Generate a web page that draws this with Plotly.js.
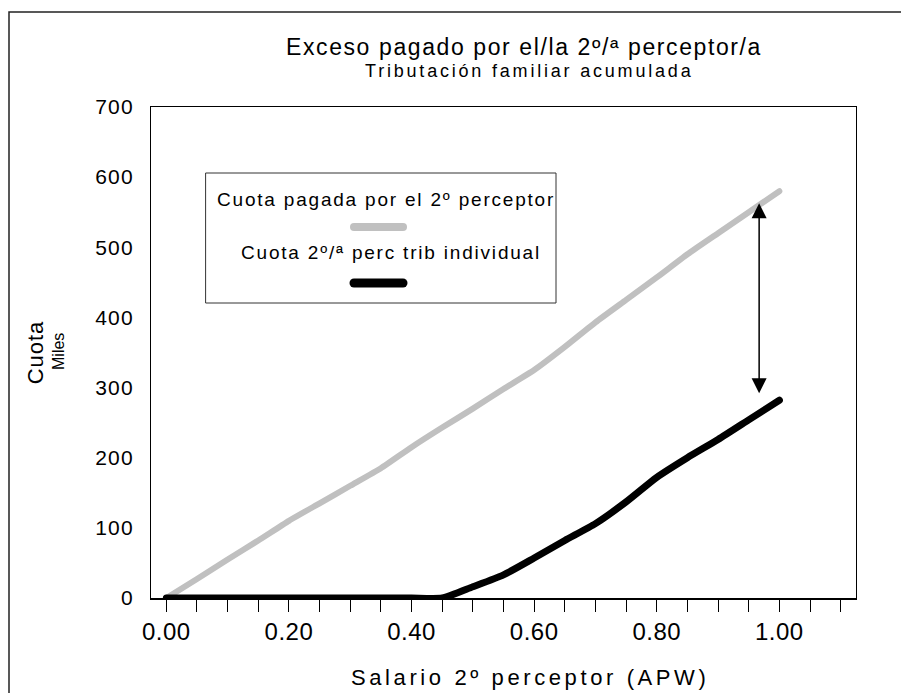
<!DOCTYPE html>
<html>
<head>
<meta charset="utf-8">
<script src="https://cdn.plot.ly/plotly-3.0.1.min.js"></script>
<style>
  html, body { margin: 0; padding: 0; background: #fff; }
  #chart { width: 901px; height: 693px; }
  .gtitle { letter-spacing: 1.6px; }
  .xtick text { letter-spacing: 0.5px; }
  .ytick text { letter-spacing: 1.2px; }
  .g-ytitle text { letter-spacing: 1px; }
  .scatterlayer path.js-line { stroke-linecap: round; stroke-linejoin: round; }
  .shapelayer path { stroke-linecap: round; }
</style>
</head>
<body>
<div id="chart"></div>
<script>
// ---- data ----
const salario = [0.00, 0.05, 0.10, 0.15, 0.20, 0.25, 0.30, 0.35, 0.40, 0.45, 0.50,
                 0.55, 0.60, 0.65, 0.70, 0.75, 0.80, 0.85, 0.90, 0.95, 1.00];
const cuotaPagada = [0, 27, 55, 82, 110, 135, 160, 185, 215, 243, 270,
                     298, 325, 358, 393, 425, 457, 490, 520, 550, 580];
const cuotaIndividual = [0, 0, 0, 0, 0, 0, 0, 0, 0, 0, 16,
                         33, 57, 82, 106, 137, 172, 200, 226, 254, 282];
const seriesNames = ['Cuota pagada por el 2º perceptor', 'Cuota 2º/ª perc trib individual'];
const xTickVals = [0.00, 0.20, 0.40, 0.60, 0.80, 1.00];
const xTickText = ['0.00', '0.20', '0.40', '0.60', '0.80', '1.00'];
const yTickVals = [0, 100, 200, 300, 400, 500, 600, 700];
const titleText = 'Exceso pagado por el/la 2º/ª perceptor/a';
const subtitleText = 'Tributación familiar acumulada';
const xTitleText = 'Salario 2º perceptor (APW)';
const yTitleText = 'Cuota';
const yUnitText = 'Miles';
// arrow marking the gap at the right end
const arrowX = 0.967, arrowTop = 565, arrowBottom = 292;

// ---- layout geometry (pixels) ----
const W = 901, H = 693;
const L = 151, R = 856, T = 107, B = 598;
const px2x = p => (p - L) / (R - L);
const py2y = p => (B - p) / (B - T);

const FONT = 'Liberation Sans, Arial, sans-serif';
const GRAY = '#c0c0c0';

const traces = [
  { x: salario, y: cuotaPagada, name: seriesNames[0], type: 'scatter', mode: 'lines',
    line: { color: GRAY, width: 6, shape: 'spline', smoothing: 0.5 }, hoverinfo: 'skip' },
  { x: salario, y: cuotaIndividual, name: seriesNames[1], type: 'scatter', mode: 'lines',
    line: { color: '#000', width: 7, shape: 'spline', smoothing: 0.6 }, hoverinfo: 'skip' }
];

const layout = {
  width: W, height: H,
  margin: { l: L, r: W - R, t: T, b: H - B, pad: 0 },
  paper_bgcolor: '#fff', plot_bgcolor: '#fff',
  showlegend: false,
  font: { family: FONT, color: '#000' },
  title: { text: titleText, font: { family: FONT, size: 23, color: '#000' },
           xref: 'container', yref: 'container', x: 524 / W, xanchor: 'center',
           y: 1 - 47 / H, yanchor: 'middle' },
  xaxis: {
    range: [-0.025, 1.125], tickvals: xTickVals, ticktext: xTickText,
    ticks: 'outside', ticklen: 12, tickwidth: 1, tickcolor: '#000',
    minor: { dtick: 0.05, tick0: 0, ticks: 'outside', ticklen: 12, tickwidth: 1, tickcolor: '#000', showgrid: false },
    showgrid: false, zeroline: false, showline: true, linecolor: '#000', linewidth: 1.5, mirror: true,
    tickfont: { family: FONT, size: 24, color: '#000' }, ticklabelstandoff: 0,
    fixedrange: true
  },
  yaxis: {
    range: [0, 700], tickvals: yTickVals, ticks: '',
    showgrid: false, zeroline: false, showline: true, linecolor: '#000', linewidth: 1, mirror: true,
    tickfont: { family: FONT, size: 21, color: '#000' }, ticklabelstandoff: 12,
    title: { text: yTitleText, font: { family: FONT, size: 22, color: '#000' }, standoff: 45 },
    fixedrange: true
  },
  shapes: [
    // outer chart border
    { type: 'rect', xref: 'paper', yref: 'paper', x0: px2x(9), x1: px2x(910), y0: py2y(710), y1: py2y(12),
      line: { color: '#222', width: 1.5 }, fillcolor: 'rgba(0,0,0,0)', layer: 'below' },
    // legend box
    { type: 'rect', xref: 'paper', yref: 'paper', x0: px2x(206), x1: px2x(556), y0: py2y(303), y1: py2y(173),
      line: { color: '#333', width: 1 }, fillcolor: '#fff', layer: 'above' },
    // legend samples
    { type: 'line', xref: 'paper', yref: 'paper', x0: px2x(354), x1: px2x(403), y0: py2y(227), y1: py2y(227),
      line: { color: GRAY, width: 8 }, layer: 'above' },
    { type: 'line', xref: 'paper', yref: 'paper', x0: px2x(354), x1: px2x(403), y0: py2y(283), y1: py2y(283),
      line: { color: '#000', width: 9 }, layer: 'above' }
  ],
  annotations: [
    { text: '<span style="letter-spacing:2.8px">' + subtitleText + '</span>', xref: 'paper', yref: 'paper',
      x: px2x(529), y: py2y(71), xanchor: 'center', yanchor: 'middle', showarrow: false,
      font: { family: FONT, size: 18, color: '#000' } },
    { text: '<span style="letter-spacing:3.6px">' + xTitleText + '</span>', xref: 'paper', yref: 'paper',
      x: px2x(530), y: py2y(677), xanchor: 'center', yanchor: 'middle', showarrow: false,
      font: { family: FONT, size: 22, color: '#000' } },
    { text: yUnitText, xref: 'paper', yref: 'paper', textangle: -90,
      x: px2x(58), y: py2y(352), xanchor: 'center', yanchor: 'middle', showarrow: false,
      font: { family: FONT, size: 16, color: '#000' } },
    { text: '<span style="letter-spacing:1.8px">' + seriesNames[0] + '</span>', xref: 'paper', yref: 'paper',
      x: px2x(386), y: py2y(199), xanchor: 'center', yanchor: 'middle', showarrow: false,
      font: { family: FONT, size: 19, color: '#000' } },
    { text: '<span style="letter-spacing:1.8px">' + seriesNames[1] + '</span>', xref: 'paper', yref: 'paper',
      x: px2x(391), y: py2y(253), xanchor: 'center', yanchor: 'middle', showarrow: false,
      font: { family: FONT, size: 19, color: '#000' } },
    { text: '', x: arrowX, y: arrowBottom, ax: arrowX, ay: arrowTop, xref: 'x', yref: 'y', axref: 'x', ayref: 'y',
      showarrow: true, arrowside: 'end+start', arrowhead: 2, startarrowhead: 2,
      arrowsize: 2, startarrowsize: 2, arrowwidth: 1.5, arrowcolor: '#000' }
  ]
};

Plotly.newPlot('chart', traces, layout, { displayModeBar: false, staticPlot: true });
</script>
</body>
</html>
